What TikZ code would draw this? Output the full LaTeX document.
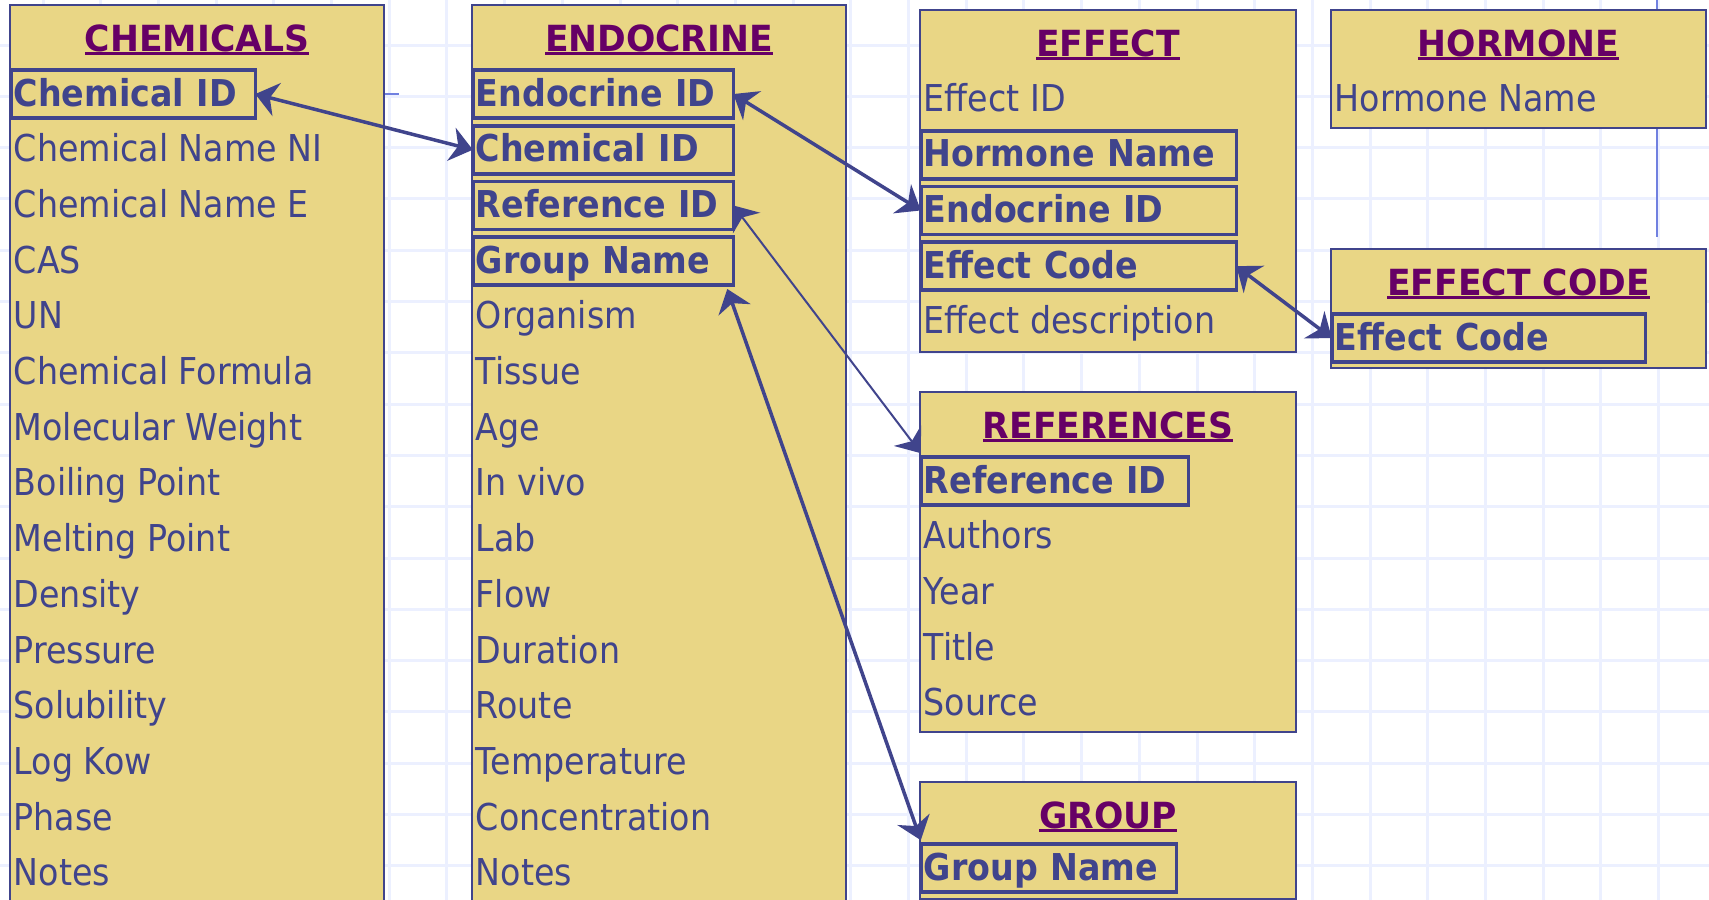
\documentclass[tikz,border=0pt]{standalone}
\usepackage{fontspec}
\setmainfont{DejaVu Sans}[FakeStretch=0.9]
\newfontfamily\headfont{DejaVu Sans}[FakeStretch=0.96]
\usepackage{xcolor}
\usetikzlibrary{arrows.meta,positioning}
\definecolor{tabfill}{RGB}{233,214,133}
\definecolor{ink}{RGB}{64,68,140}
\definecolor{headink}{RGB}{102,0,102}
\definecolor{gridblue}{RGB}{236,240,255}
\definecolor{guide}{RGB}{112,128,224}
% underlined table title
\newcommand{\hd}[1]{\setbox0\hbox{#1}\rlap{\rule[-2.2pt]{\wd0}{1.5pt}}\box0}

\begin{document}
\begin{tikzpicture}[x=0.5pt,y=-0.5pt,
  tab/.style={draw=ink,line width=1pt,fill=tabfill,anchor=north west,inner sep=0pt},
  head/.style={anchor=base,inner sep=0pt,text=headink,font=\headfont\bfseries\fontsize{18}{18}\selectfont},
  fld/.style={text=ink,font=\fontsize{18.5}{20}\selectfont,inner xsep=1.5pt,inner ysep=0pt,
    outer xsep=0pt,outer ysep=1.925pt,minimum height=24pt,text height=17pt,text depth=5pt},
  key/.style={fld,draw=ink,line width=1.75pt,text width=#1,align=left,
    font=\bfseries\fontsize{18.5}{20}\selectfont},
  link/.style={<->,draw=ink,line width=1.75pt},
  >={Stealth[length=11pt,width=17pt,inset=3.5pt]}]
\clip (0,0) rectangle (1709,900);
\fill[white] (0,0) rectangle (1709,900);
\draw[gridblue,line width=1.5pt,shift={(43,45)},xstep=28.85pt,ystep=25.65pt] (-60,-60) grid (1700,900);
\draw[guide,line width=1pt] (1657,0) -- (1657,237);
\draw[guide,line width=1pt] (383,94) -- (399,94);

% tables
\node[tab,minimum width=187pt,minimum height=460pt] (chem) at (9,4) {};
\node[tab,minimum width=187pt,minimum height=460pt] (endo) at (471,4) {};
\node[tab,minimum width=188pt,minimum height=171pt] (eff) at (919,9) {};
\node[tab,minimum width=187.5pt,minimum height=59pt] (horm) at (1330,9) {};
\node[tab,minimum width=187.5pt,minimum height=59.5pt] (ecode) at (1330,248) {};
\node[tab,minimum width=188pt,minimum height=170pt] (refs) at (919,391) {};
\node[tab,minimum width=188pt,minimum height=58.5pt] (grp) at (919,781) {};

\node[head] (chemH) at ([yshift=-23.5pt]chem.north) {\hd{CHEMICALS}};
\node[head] (endoH) at ([yshift=-23.5pt]endo.north) {\hd{ENDOCRINE}};
\node[head] (effH) at ([yshift=-23.5pt]eff.north) {\hd{EFFECT}};
\node[head] (hormH) at ([yshift=-23.5pt]horm.north) {\hd{HORMONE}};
\node[head] (ecodeH) at ([yshift=-23.5pt]ecode.north) {\hd{EFFECT CODE}};
\node[head] (refsH) at ([yshift=-23.5pt]refs.north) {\hd{REFERENCES}};
\node[head] (grpH) at ([yshift=-23.5pt]grp.north) {\hd{GROUP}};

% CHEMICALS
\node[key=119.25pt,below right=31.1pt and 0.9pt of chem.north west] (c1) {Chemical ID};
\node[fld,below right=0pt and 0pt of c1.south west] (c2) {Chemical Name NI};
\node[fld,below right=0pt and 0pt of c2.south west] (c3) {Chemical Name E};
\node[fld,below right=0pt and 0pt of c3.south west] (c4) {CAS};
\node[fld,below right=0pt and 0pt of c4.south west] (c5) {UN};
\node[fld,below right=0pt and 0pt of c5.south west] (c6) {Chemical Formula};
\node[fld,below right=0pt and 0pt of c6.south west] (c7) {Molecular Weight};
\node[fld,below right=0pt and 0pt of c7.south west] (c8) {Boiling Point};
\node[fld,below right=0pt and 0pt of c8.south west] (c9) {Melting Point};
\node[fld,below right=0pt and 0pt of c9.south west] (c10) {Density};
\node[fld,below right=0pt and 0pt of c10.south west] (c11) {Pressure};
\node[fld,below right=0pt and 0pt of c11.south west] (c12) {Solubility};
\node[fld,below right=0pt and 0pt of c12.south west] (c13) {Log Kow};
\node[fld,below right=0pt and 0pt of c13.south west] (c14) {Phase};
\node[fld,below right=0pt and 0pt of c14.south west] (c15) {Notes};

% ENDOCRINE
\node[key=127.25pt,below right=31.1pt and 0.9pt of endo.north west] (e1) {Endocrine ID};
\node[key=127.25pt,below right=0pt and 0pt of e1.south west] (e2) {Chemical ID};
\node[key=127.25pt,below right=0pt and 0pt of e2.south west] (e3) {Reference ID};
\node[key=127.25pt,below right=0pt and 0pt of e3.south west] (e4) {Group Name};
\node[fld,below right=0pt and 0pt of e4.south west] (e5) {Organism};
\node[fld,below right=0pt and 0pt of e5.south west] (e6) {Tissue};
\node[fld,below right=0pt and 0pt of e6.south west] (e7) {Age};
\node[fld,below right=0pt and 0pt of e7.south west] (e8) {In vivo};
\node[fld,below right=0pt and 0pt of e8.south west] (e9) {Lab};
\node[fld,below right=0pt and 0pt of e9.south west] (e10) {Flow};
\node[fld,below right=0pt and 0pt of e10.south west] (e11) {Duration};
\node[fld,below right=0pt and 0pt of e11.south west] (e12) {Route};
\node[fld,below right=0pt and 0pt of e12.south west] (e13) {Temperature};
\node[fld,below right=0pt and 0pt of e13.south west] (e14) {Concentration};
\node[fld,below right=0pt and 0pt of e14.south west] (e15) {Notes};

% EFFECT, HORMONE, EFFECT CODE
\node[fld,below right=31.1pt and 0.9pt of eff.north west] (f1) {Effect ID};
\node[key=154.75pt,below right=0pt and 0pt of f1.south west] (f2) {Hormone Name};
\node[key=154.75pt,below right=0pt and 0pt of f2.south west] (f3) {Endocrine ID};
\node[key=154.75pt,below right=0pt and 0pt of f3.south west] (f4) {Effect Code};
\node[fld,below right=0pt and 0pt of f4.south west] (f5) {Effect description};
\node[fld,below right=31.1pt and 0.9pt of horm.north west] (h1) {Hormone Name};
\node[key=153.75pt,below right=31.1pt and 0.9pt of ecode.north west] (k1) {Effect Code};

% REFERENCES, GROUP
\node[key=130.75pt,below right=31.1pt and 0.9pt of refs.north west] (r1) {Reference ID};
\node[fld,below right=0pt and 0pt of r1.south west] (r2) {Authors};
\node[fld,below right=0pt and 0pt of r2.south west] (r3) {Year};
\node[fld,below right=0pt and 0pt of r3.south west] (r4) {Title};
\node[fld,below right=0pt and 0pt of r4.south west] (r5) {Source};
\node[key=124.75pt,below right=29.6pt and 0.9pt of grp.north west] (g1) {Group Name};

\draw[link] (c1.east) -- (e2.west); \draw[link] (e1.east) -- (f3.west);
\draw[link,line width=1pt] (e3.east) -- (r1.north west);
\draw[link] ([xshift=-3pt]e4.south east) -- (g1.north west); \draw[link] (f4.east) -- (k1.west);
\end{tikzpicture}
\end{document}
